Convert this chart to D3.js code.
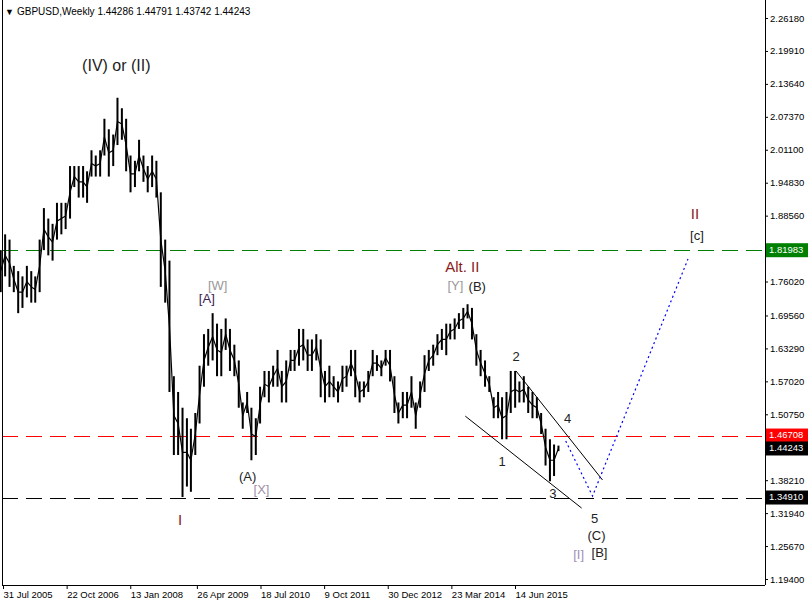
<!DOCTYPE html>
<html>
<head>
<meta charset="utf-8">
<script src="https://cdn.jsdelivr.net/npm/d3@7"></script>
<style>
  body { margin: 0; background: #fff; }
  text { font-family: "Liberation Sans", Arial, sans-serif; }
</style>
</head>
<body>
<svg id="chart" width="808" height="604"></svg>
<script>
// monthly ranges, Jul 2005 .. Apr 2016
const startMonth = '2005-07-15';
const highs = [
  1.82, 1.85, 1.84, 1.79, 1.78, 1.77,
  1.79, 1.78, 1.77, 1.84, 1.90, 1.88, 1.87, 1.91, 1.91, 1.91, 1.98, 1.98,
  1.98, 1.98, 1.97, 2.01, 2.00, 2.01, 2.07, 2.05, 2.04, 2.11, 2.09, 2.07,
  2.00, 1.99, 2.03, 2.00, 1.98, 2.00, 1.99, 1.93, 1.84, 1.80, 1.58, 1.55,
  1.52, 1.50, 1.48, 1.51, 1.60, 1.66, 1.67, 1.70, 1.68, 1.67, 1.69, 1.67,
  1.64, 1.61, 1.53, 1.55, 1.52, 1.50, 1.56, 1.59, 1.59, 1.60, 1.63, 1.59,
  1.61, 1.63, 1.63, 1.67, 1.67, 1.65, 1.65, 1.66, 1.65, 1.59, 1.60, 1.58,
  1.57, 1.60, 1.60, 1.63, 1.63, 1.57, 1.57, 1.59, 1.63, 1.62, 1.61, 1.63,
  1.63, 1.58, 1.53, 1.55, 1.55, 1.58, 1.53, 1.57, 1.62, 1.63, 1.64, 1.66,
  1.67, 1.68, 1.68, 1.69, 1.70, 1.71, 1.717, 1.71, 1.66, 1.63, 1.61, 1.58,
  1.54, 1.55, 1.54, 1.55, 1.59, 1.59, 1.57, 1.58, 1.56, 1.55, 1.54, 1.51,
  1.48, 1.46, 1.45, 1.4479
];
const lows = [
  1.74, 1.77, 1.75, 1.74, 1.70, 1.71,
  1.73, 1.72, 1.72, 1.74, 1.82, 1.81, 1.80, 1.84, 1.85, 1.86, 1.88, 1.94,
  1.92, 1.92, 1.91, 1.96, 1.96, 1.96, 2.00, 1.96, 1.98, 2.02, 2.03, 1.97,
  1.93, 1.94, 1.97, 1.95, 1.93, 1.94, 1.92, 1.75, 1.72, 1.55, 1.43, 1.43,
  1.35, 1.37, 1.36, 1.43, 1.49, 1.56, 1.60, 1.61, 1.58, 1.58, 1.63, 1.59,
  1.58, 1.52, 1.48, 1.51, 1.42, 1.43, 1.49, 1.54, 1.53, 1.56, 1.56, 1.53,
  1.53, 1.59, 1.59, 1.60, 1.61, 1.59, 1.59, 1.61, 1.54, 1.53, 1.54, 1.54,
  1.53, 1.55, 1.56, 1.58, 1.54, 1.53, 1.54, 1.55, 1.58, 1.59, 1.58, 1.60,
  1.57, 1.51, 1.49, 1.50, 1.50, 1.52, 1.48, 1.52, 1.55, 1.59, 1.60, 1.62,
  1.63, 1.62, 1.65, 1.65, 1.67, 1.67, 1.69, 1.65, 1.60, 1.58, 1.56, 1.55,
  1.50, 1.50, 1.46, 1.46, 1.51, 1.52, 1.53, 1.53, 1.51, 1.50, 1.50, 1.47,
  1.41, 1.38, 1.39, 1.4374
];

const dateTicks = ['2005-07-31','2006-10-22','2008-01-13','2009-04-26','2010-07-18',
  '2011-10-09','2012-12-30','2014-03-23','2015-06-14'];
const dateTickLabels = ['31 Jul 2005','22 Oct 2006','13 Jan 2008','26 Apr 2009','18 Jul 2010',
  '9 Oct 2011','30 Dec 2012','23 Mar 2014','14 Jun 2015'];
const priceTicks = [2.26180, 2.19910, 2.13640, 2.07370, 2.01100, 1.94830, 1.88560,
  1.76020, 1.69560, 1.63290, 1.57020, 1.50750, 1.38210, 1.31940, 1.25670, 1.19400];

const levels = [
  { price: 1.81983, color: '#008000', label: '1.81983' },
  { price: 1.46708, color: '#ff0000', label: '1.46708' },
  { price: 1.34910, color: '#000000', label: '1.34910' }
];
const lastPrice = 1.44243;

const waveLabels = [
  ['2007-10-07', 2.1685, '(IV) or (II)', '#222', 16],
  ['2009-09-20', 1.750, '[W]', '#999', 13],
  ['2009-07-05', 1.725, '[A]', '#402050', 13],
  ['2010-04-18', 1.388, '(A)', '#222', 13],
  ['2010-07-25', 1.363, '[X]', '#a090a8', 13],
  ['2008-12-28', 1.304, 'I', '#8b1a1a', 15],
  ['2014-06-08', 1.786, 'Alt. II', '#8b1a1a', 15],
  ['2014-04-20', 1.750, '[Y]', '#999', 13],
  ['2014-09-21', 1.748, '(B)', '#222', 13],
  ['2015-03-15', 1.415, '1', '#222', 13],
  ['2015-06-21', 1.615, '2', '#222', 13],
  ['2016-03-06', 1.354, '3', '#222', 13],
  ['2016-06-19', 1.497, '4', '#222', 13],
  ['2016-12-25', 1.308, '5', '#222', 13],
  ['2017-01-08', 1.274, '(C)', '#222', 13],
  ['2017-01-29', 1.243, '[B]', '#222', 13],
  ['2016-09-04', 1.238, '[I]', '#a090b8', 13],
  ['2018-12-02', 1.887, 'II', '#8b1a1a', 15],
  ['2018-12-16', 1.845, '[c]', '#222', 13]
];
const trendLines = [
  [['2015-06-21', 1.590], ['2017-02-19', 1.3825]],
  [['2014-06-29', 1.504], ['2016-09-25', 1.329]]
];
const projection = [['2016-06-05', 1.4567], ['2016-12-11', 1.3520], ['2018-10-14', 1.803]];

const parse = d3.utcParse('%Y-%m-%d');
const svg = d3.select('#chart');
const plotLeft = 2, plotRight = 765, plotBottom = 585;

const x = d3.scaleUtc()
  .domain([parse('2005-07-31'), parse('2015-06-14')])
  .range([3, 515]);
const y = d3.scaleLinear()
  .domain([1.194, 2.2618])
  .range([579, 18]);

// level lines
levels.forEach(l => {
  svg.append('line')
    .attr('x1', plotLeft).attr('x2', plotRight)
    .attr('y1', Math.round(y(l.price)) + 0.5).attr('y2', Math.round(y(l.price)) + 0.5)
    .attr('stroke', l.color).attr('stroke-dasharray', '16,8');
});

// bars
const months = highs.map((h, i) => {
  const d = parse(startMonth);
  d.setUTCMonth(d.getUTCMonth() + i);
  return { date: d, high: h, low: lows[i] };
});
svg.selectAll('rect.bar')
  .data(months)
  .enter()
  .append('rect')
  .attr('class', 'bar')
  .attr('x', d => x(d.date) - 1)
  .attr('width', 2)
  .attr('y', d => y(d.high))
  .attr('height', d => Math.max(1, y(d.low) - y(d.high)))
  .attr('fill', '#000');

svg.append('path')
  .datum(months)
  .attr('d', d3.line().x(d => x(d.date)).y(d => y((d.high + d.low) / 2)))
  .attr('fill', 'none')
  .attr('stroke', '#000')
  .attr('stroke-width', 1.2);

// trend lines
trendLines.forEach(t => {
  svg.append('line')
    .attr('x1', x(parse(t[0][0]))).attr('y1', y(t[0][1]))
    .attr('x2', x(parse(t[1][0]))).attr('y2', y(t[1][1]))
    .attr('stroke', '#000').attr('stroke-width', 1);
});

svg.append('path')
  .datum(projection)
  .attr('d', d3.line().x(d => x(parse(d[0]))).y(d => y(d[1])))
  .attr('fill', 'none')
  .attr('stroke', '#0000ff')
  .attr('stroke-width', 1.2)
  .attr('stroke-dasharray', '2,3');

// wave labels
svg.selectAll('text.wave')
  .data(waveLabels)
  .enter()
  .append('text')
  .attr('class', 'wave')
  .attr('x', d => x(parse(d[0])))
  .attr('y', d => y(d[1]))
  .attr('text-anchor', 'middle')
  .attr('dominant-baseline', 'middle')
  .attr('fill', d => d[3])
  .style('font-size', d => d[4] + 'px')
  .text(d => d[2]);

// frame
svg.append('line').attr('x1', plotLeft + 0.5).attr('x2', plotLeft + 0.5).attr('y1', 0).attr('y2', plotBottom).attr('stroke', '#000');
svg.append('line').attr('x1', plotLeft).attr('x2', plotRight).attr('y1', plotBottom + 0.5).attr('y2', plotBottom + 0.5).attr('stroke', '#000');
svg.append('line').attr('x1', plotRight + 0.5).attr('x2', plotRight + 0.5).attr('y1', 0).attr('y2', plotBottom).attr('stroke', '#000');

// right axis
const yAxis = svg.append('g').attr('transform', 'translate(' + plotRight + ',0)')
  .call(d3.axisRight(y).tickValues(priceTicks).tickSize(3).tickFormat(d3.format('.5f')));
yAxis.select('.domain').remove();
yAxis.selectAll('text').style('font-size', '9.5px').attr('x', 5).attr('fill', '#000');

// bottom axis
const xAxis = svg.append('g').attr('transform', 'translate(0,' + plotBottom + ')')
  .call(d3.axisBottom(x).tickValues(dateTicks.map(parse)).tickSize(4)
    .tickFormat((d, i) => dateTickLabels[i]));
xAxis.select('.domain').remove();
xAxis.selectAll('text').style('font-size', '9.5px').attr('text-anchor', 'start').attr('x', 0).attr('y', 6).attr('fill', '#000');

// price boxes
const boxes = levels.concat([{ price: lastPrice, color: '#000', label: lastPrice.toFixed(5) }]);
boxes.forEach(b => {
  svg.append('rect').attr('x', plotRight + 1).attr('y', y(b.price) - 7)
    .attr('width', 42).attr('height', 14).attr('fill', b.color);
  svg.append('text').attr('x', plotRight + 4).attr('y', y(b.price))
    .attr('dominant-baseline', 'middle').attr('fill', '#fff')
    .style('font-size', '9.5px').text(b.label);
});

// header
svg.append('text').attr('x', 5).attr('y', 15).style('font-size', '9px').text('▼');
svg.append('text').attr('x', 17).attr('y', 15).style('font-size', '10px')
  .text('GBPUSD,Weekly  1.44286 1.44791 1.43742 1.44243');
</script>
</body>
</html>
